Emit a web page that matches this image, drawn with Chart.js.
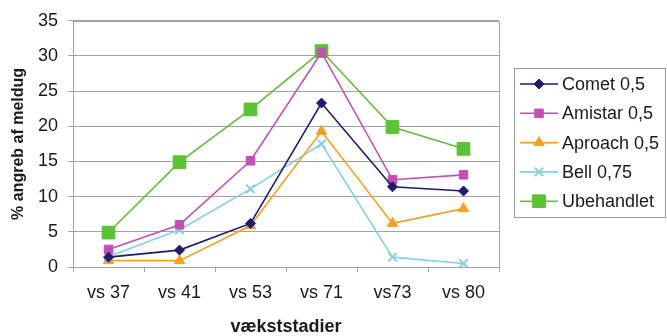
<!DOCTYPE html>
<html>
<head>
<meta charset="utf-8">
<script src="https://cdn.jsdelivr.net/npm/chart.js@4/dist/chart.umd.min.js"></script>
<style>
html,body{margin:0;padding:0;background:#fff;}
#wrap{width:667px;height:336px;position:relative;}
</style>
</head>
<body>
<div id="wrap"><canvas id="c" width="667" height="336"></canvas></div>
<script>
const categories = ['vs 37', 'vs 41', 'vs 53', 'vs 71', 'vs73', 'vs 80'];
const seriesNames = ['Comet 0,5', 'Amistar 0,5', 'Aproach 0,5', 'Bell 0,75', 'Ubehandlet'];
const comet = [1.4, 2.4, 6.2, 23.3, 11.4, 10.8];
const amistar = [2.5, 6.0, 15.1, 30.5, 12.4, 13.1];
const aproach = [0.9, 0.9, 5.9, 19.3, 6.2, 8.3];
const bell = [1.5, 5.3, 11.1, 17.5, 1.4, 0.5];
const ubehandlet = [4.9, 14.9, 22.4, 30.7, 19.9, 16.8];
const yTicks = [0, 5, 10, 15, 20, 25, 30, 35];

const styles = [
  {color:'#1f1b6e', fill:'#1f1b6e', pointStyle:'rectRot', radius:5},
  {color:'#c24fb4', fill:'#c24fb4', pointStyle:'rect', radius:6},
  {color:'#f5a023', fill:'#f5a023', pointStyle:'triangle', radius:6},
  {color:'#86d0e0', fill:'#86d0e0', pointStyle:'crossRot', radius:6},
  {color:'#62bd3d', fill:'#5cc236', pointStyle:'rect', radius:9}
];
const values = [comet, amistar, aproach, bell, ubehandlet];

const datasets = seriesNames.map((n, i) => ({
  label: n,
  data: values[i],
  borderColor: styles[i].color,
  backgroundColor: styles[i].fill,
  pointBackgroundColor: styles[i].fill,
  pointBorderColor: styles[i].fill,
  pointStyle: styles[i].pointStyle,
  pointRadius: styles[i].radius,
  pointBorderWidth: styles[i].pointStyle === 'crossRot' ? 2 : 1,
  borderWidth: 1.6,
  tension: 0,
  fill: false
}));

const GRID = '#a3a3a3';
const FONT = "'Liberation Sans', Arial, sans-serif";

const frameAndLegend = {
  id: 'frameAndLegend',
  afterDatasetsDraw(chart) {
    const ctx = chart.ctx;
    const a = chart.chartArea;
    ctx.save();
    ctx.strokeStyle = GRID;
    ctx.lineWidth = 1;
    ctx.strokeRect(Math.round(a.left) + 0.5, Math.round(a.top) + 0.5, Math.round(a.right - a.left), Math.round(a.bottom - a.top));
    // legend
    const bx = 514.5, by = 68.5, bw = 151, bh = 149;
    ctx.strokeStyle = '#9a9a9a';
    ctx.strokeRect(bx, by, bw, bh);
    ctx.font = '18px ' + FONT;
    ctx.textBaseline = 'middle';
    ctx.fillStyle = '#1a1a1a';
    chart.data.datasets.forEach((ds, i) => {
      const y = 84 + i * 29.3;
      ctx.strokeStyle = ds.borderColor;
      ctx.lineWidth = 1.6;
      ctx.beginPath();
      ctx.moveTo(520, y);
      ctx.lineTo(558, y);
      ctx.stroke();
      ctx.fillStyle = ds.pointBackgroundColor;
      ctx.strokeStyle = ds.pointBorderColor;
      ctx.lineWidth = ds.pointBorderWidth;
      Chart.helpers.drawPoint(ctx, {pointStyle: ds.pointStyle, radius: ds.pointRadius, rotation: 0, borderWidth: ds.pointBorderWidth}, 539, y);
      ctx.fillStyle = '#1a1a1a';
      ctx.fillText(ds.label, 562, y + 1);
    });
    ctx.restore();
  }
};

new Chart(document.getElementById('c'), {
  type: 'line',
  data: { labels: categories, datasets },
  options: {
    responsive: false,
    animation: false,
    devicePixelRatio: 1,
    layout: { padding: { left: 0, right: 168, top: 19, bottom: 0 } },
    plugins: { legend: { display: false }, tooltip: { enabled: false } },
    scales: {
      x: {
        offset: true,
        grid: { offset: true, drawOnChartArea: false, drawTicks: true, tickLength: 5, color: GRID, lineWidth: 1 },
        border: { color: GRID, width: 1 },
        ticks: { color: '#1a1a1a', font: { family: FONT, size: 18 }, padding: 10, maxRotation: 0, autoSkip: false },
        title: { display: true, text: 'vækststadier', color: '#1a1a1a', font: { family: FONT, size: 18, weight: 'bold', lineHeight: 1 }, padding: 0 },
        afterFit(s) { s.height = 69; }
      },
      y: {
        min: 0, max: 35,
        afterBuildTicks(s) { s.ticks = yTicks.map(v => ({ value: v })); },
        grid: { color: GRID, lineWidth: 1, tickLength: 5 },
        border: { color: GRID, width: 1 },
        ticks: { color: '#1a1a1a', font: { family: FONT, size: 18 }, padding: 10 },
        title: { display: true, text: '% angreb af meldug', color: '#1a1a1a', font: { family: FONT, size: 16, weight: 'bold', lineHeight: 1 }, padding: { top: 11, bottom: 0 } },
        afterFit(s) { s.width = 73; }
      }
    }
  },
  plugins: [frameAndLegend]
});
</script>
</body>
</html>
